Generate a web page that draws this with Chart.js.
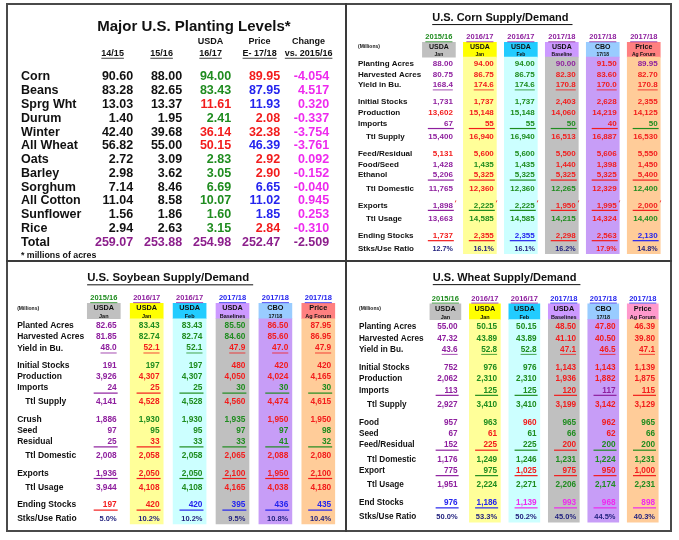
<!DOCTYPE html>
<html>
<head>
<meta charset="utf-8">
<script src="https://cdn.jsdelivr.net/npm/chart.js@4.4.1/dist/chart.umd.min.js"></script>
<style>
  body { margin: 0; background: #fff; }
  #wrap { position: relative; width: 679px; height: 540px; overflow: hidden; }
  canvas { position: absolute; }
  .rule { position: absolute; background: #3a3a3a; z-index: 2; }
  #frame { position: absolute; left: 6px; top: 3px; width: 666px; height: 529px; box-sizing: border-box; border: 2px solid #4a4a4a; z-index: 2; }
</style>
</head>
<body>
<div id="wrap">
  <canvas id="plantChart"></canvas>
  <canvas id="cornChart"></canvas>
  <canvas id="soyChart"></canvas>
  <canvas id="wheatChart"></canvas>
  <div id="frame"></div>
  <div class="rule" style="left:345px; top:3px; width:2px; height:529px;"></div>
  <div class="rule" style="left:6px; top:260px; width:666px; height:2px;"></div>
</div>
<script>
// ===========================
// DATA
// ===========================

// Major U.S. Planting Levels (millions of acres)
const plantCrops = ['Corn', 'Beans', 'Sprg Wht', 'Durum', 'Winter', 'All Wheat', 'Oats', 'Barley', 'Sorghum', 'All Cotton', 'Sunflower', 'Rice', 'Total'];
const plantHeadTop = ['', '', 'USDA', 'Price', 'Change'];
const plantHeadBottom = ['14/15', '15/16', '16/17', 'E- 17/18', 'vs. 2015/16'];
const plant1415 = [90.60, 83.28, 13.03, 1.40, 42.40, 56.82, 2.72, 2.98, 7.14, 11.04, 1.56, 2.94, 259.07];
const plant1516 = [88.00, 82.65, 13.37, 1.95, 39.68, 55.00, 3.09, 3.62, 8.46, 8.58, 1.86, 2.63, 253.88];
const plantUsda1617 = [94.00, 83.43, 11.61, 2.41, 36.14, 50.15, 2.83, 3.05, 6.69, 10.07, 1.60, 3.15, 254.98];
const plantPrice1718 = [89.95, 87.95, 11.93, 2.08, 32.38, 46.39, 2.92, 2.90, 6.65, 11.02, 1.85, 2.84, 252.47];
const plantChange = [-4.054, 4.517, 0.320, -0.337, -3.754, -3.761, 0.092, -0.152, -0.040, 0.945, 0.253, -0.310, -2.509];
// colour codes per cell (k black, g green, r red, b blue, t total purple, m magenta)
const plantTints = ['kkkkkkkkkkkkt', 'kkkkkkkkkkkkt', 'ggrgrrggggggt', 'rbbrrbrrbbbrt', 'mmmmmmmmmmmmt'];

// rows shared by the three supply/demand tables
const sdFormats = ['acre', 'acre', 'yield', 'n', 'n', 'n', 'n', 'n', 'n', 'n', 'n', 'n', 'n', 'n', 'pct'];
const sdRuleRows = [5, 9, 11, 13];

// U.S. Corn Supply/Demand
const cornRows = ['Planting Acres', 'Harvested Acres', 'Yield in Bu.', 'Initial Stocks', 'Production', 'Imports', 'Ttl Supply',
  'Feed/Residual', 'Food/Seed', 'Ethanol', 'Ttl Domestic', 'Exports', 'Ttl Usage', 'Ending Stocks', 'Stks/Use Ratio'];
const cornGroups = [3, 4, 4, 2, 2];
const cornYears = ['2015/16', '2016/17', '2016/17', '2017/18', '2017/18', '2017/18'];
const cornHeadTop = ['USDA', 'USDA', 'USDA', 'USDA', 'CBO', 'Price'];
const cornHeadSub = ['Jan', 'Jan', 'Feb', 'Baseline', '17/18', 'Ag Forum'];
const corn1516Jan = [88.00, 80.75, 168.4, 1731, 13602, 67, 15400, 5131, 1428, 5206, 11765, 1898, 13663, 1737, 12.7];
const corn1617Jan = [94.00, 86.75, 174.6, 1737, 15148, 55, 16940, 5600, 1435, 5325, 12360, 2225, 14585, 2355, 16.1];
const corn1617Feb = [94.00, 86.75, 174.6, 1737, 15148, 55, 16940, 5600, 1435, 5325, 12360, 2225, 14585, 2355, 16.1];
const corn1718Base = [90.00, 82.30, 170.8, 2403, 14060, 50, 16513, 5500, 1440, 5325, 12265, 1950, 14215, 2298, 16.2];
const corn1718Cbo = [91.50, 83.60, 170.0, 2628, 14219, 40, 16887, 5606, 1398, 5325, 12329, 1995, 14324, 2563, 17.9];
const corn1718Forum = [89.95, 82.70, 170.8, 2355, 14125, 50, 16530, 5550, 1450, 5400, 12400, 2000, 14400, 2130, 14.8];
const cornYearTints = 'gppppp';
const cornTints = ['pppprpprppppprn', 'rrrrrrrrgrrggrn', 'gggggggggggggbn', 'prrrrgrrrrgrgrn', 'rrrrrrrrrrrrrrr', 'prrrrgrrrrgrgbn'];

// U.S. Soybean Supply/Demand
const soyRows = ['Planted Acres', 'Harvested Acres', 'Yield in Bu.', 'Initial Stocks', 'Production', 'Imports', 'Ttl Supply',
  'Crush', 'Seed', 'Residual', 'Ttl Domestic', 'Exports', 'Ttl Usage', 'Ending Stocks', 'Stks/Use Ratio'];
const soyGroups = [3, 4, 4, 2, 2];
const soyYears = ['2015/16', '2016/17', '2016/17', '2017/18', '2017/18', '2017/18'];
const soyHeadTop = ['USDA', 'USDA', 'USDA', 'USDA', 'CBO', 'Price'];
const soyHeadSub = ['Jan', 'Jan', 'Feb', 'Baselines', '17/18', 'Ag Forum'];
const soy1516Jan = [82.65, 81.85, 48.0, 191, 3926, 24, 4141, 1886, 97, 25, 2008, 1936, 3944, 197, 5.0];
const soy1617Jan = [83.43, 82.74, 52.1, 197, 4307, 25, 4528, 1930, 95, 33, 2058, 2050, 4108, 420, 10.2];
const soy1617Feb = [83.43, 82.74, 52.1, 197, 4307, 25, 4528, 1930, 95, 33, 2058, 2050, 4108, 420, 10.2];
const soy1718Base = [85.50, 84.60, 47.9, 480, 4050, 30, 4560, 1935, 97, 33, 2065, 2100, 4165, 395, 9.5];
const soy1718Cbo = [86.50, 85.60, 47.0, 420, 4024, 30, 4474, 1950, 97, 41, 2088, 1950, 4038, 436, 10.8];
const soy1718Forum = [87.95, 86.95, 47.9, 420, 4165, 30, 4615, 1950, 98, 32, 2080, 2100, 4180, 435, 10.4];
const soyYearTints = 'gppbbb';
const soyTints = ['ppppppppppppprn', 'ggrgrrrggrrrrrn', 'gggggggggggggbn', 'ggrrrgrgggrrrbn', 'rrrrrgrrggrrrbn', 'rrrrrgrrggrrrbn'];

// U.S. Wheat Supply/Demand
const wheatRows = ['Planting Acres', 'Harvested Acres', 'Yield in Bu.', 'Initial Stocks', 'Production', 'Imports', 'Ttl Supply',
  'Food', 'Seed', 'Feed/Residual', 'Ttl Domestic', 'Export', 'Ttl Usage', 'End Stocks', 'Stks/Use Ratio'];
const wheatGroups = [3, 4, 6, 2];
const wheatYears = ['2015/16', '2016/17', '2016/17', '2017/18', '2017/18', '2017/18'];
const wheatHeadTop = ['USDA', 'USDA', 'USDA', 'USDA', 'CBO', 'Price'];
const wheatHeadSub = ['Jan', 'Jan', 'Feb', 'Baselines', '17/18', 'Ag Forum'];
const wheat1516Jan = [55.00, 47.32, 43.6, 752, 2062, 113, 2927, 957, 67, 152, 1176, 775, 1951, 976, 50.0];
const wheat1617Jan = [50.15, 43.89, 52.8, 976, 2310, 125, 3410, 963, 61, 225, 1249, 975, 2224, 1186, 53.3];
const wheat1617Feb = [50.15, 43.89, 52.8, 976, 2310, 125, 3410, 960, 61, 225, 1246, 1025, 2271, 1139, 50.2];
const wheat1718Base = [48.50, 41.10, 47.1, 1143, 1936, 120, 3199, 965, 66, 200, 1231, 975, 2206, 993, 45.0];
const wheat1718Cbo = [47.80, 40.50, 46.5, 1143, 1882, 117, 3142, 962, 62, 200, 1224, 950, 2174, 968, 44.5];
const wheat1718Forum = [46.39, 39.80, 47.1, 1139, 1875, 115, 3129, 965, 66, 200, 1231, 1000, 2231, 898, 40.3];
const wheatYearTints = 'gppbbb';
const wheatTints = ['pppppppppppppbn', 'ggggggggrrgggbn', 'gggggggrgggrgmn', 'rrrrrrrggrgrgmn', 'rrrrrprrrggrgmn', 'rrrrrrrggggrgmn'];

// ===========================
// DRAWING
// ===========================

const FONT = '"Liberation Sans", Arial, Helvetica, sans-serif';
const INK = { k: '#111111', p: '#8e1f9e', r: '#f21c1c', g: '#1f8c1f', b: '#2424ee', m: '#ee2aee', n: '#23237f', t: '#8c1f8c' };

function fmt(v, kind) {
    if (kind === 'acre') return v.toFixed(2);
    if (kind === 'yield') return v.toFixed(1);
    if (kind === 'pct') return v.toFixed(1) + '%';
    return v.toLocaleString('en-US');
}

// draw a string, optionally underlined; returns its width
function text(ctx, s, x, y, font, color, align, underline) {
    ctx.font = font;
    ctx.fillStyle = color;
    ctx.textAlign = align;
    ctx.textBaseline = 'middle';
    ctx.fillText(s, x, y);
    const w = ctx.measureText(s).width;
    if (underline) {
        const size = parseFloat(font.replace('bold ', ''));
        const x0 = align === 'center' ? x - w / 2 : (align === 'right' ? x - w : x);
        ctx.strokeStyle = color;
        ctx.lineWidth = Math.max(0.8, size / 11);
        ctx.beginPath();
        ctx.moveTo(x0, y + size * 0.58);
        ctx.lineTo(x0 + w, y + size * 0.58);
        ctx.stroke();
    }
    return w;
}

// row positions in y-scale units: 1 per row, wider for totals and between groups
function rowUnits(labels, groups) {
    const out = [];
    let u = 0, i = 0;
    groups.forEach(size => {
        for (let k = 0; k < size; k++, i++) {
            if (i > 0) u += (k === 0) ? 1.6 : (/^(Ttl|Stks)/.test(labels[i]) ? 1.25 : 1);
            out.push(u);
        }
    });
    return out;
}

function makeChart(id, box, geo, datasets, draw) {
    const canvas = document.getElementById(id);
    canvas.width = box.width;
    canvas.height = box.height;
    canvas.style.left = box.left + 'px';
    canvas.style.top = box.top + 'px';
    const xmin = 1 - (geo.x1 - box.left) / geo.dx;
    const ymin = -(geo.y0 - box.top) / geo.dy;
    return new Chart(canvas, {
        type: 'bar',
        data: { datasets: datasets },
        options: {
            responsive: false,
            animation: false,
            events: [],
            layout: { padding: 0 },
            plugins: { legend: { display: false }, tooltip: { enabled: false } },
            scales: {
                x: { type: 'linear', display: false, offset: false, grace: 0, min: xmin, max: xmin + box.width / geo.dx },
                y: { type: 'linear', display: false, offset: false, grace: 0, reverse: true, min: ymin, max: ymin + box.height / geo.dy }
            }
        },
        plugins: [{ id: 'cells', afterDatasetsDraw: chart => draw(chart) }]
    });
}

// ---------- planting levels ----------
function drawPlanting(chart) {
    const ctx = chart.ctx;
    const X = v => chart.scales.x.getPixelForValue(v);
    const Y = v => chart.scales.y.getPixelForValue(v);
    const cols = [plant1415, plant1516, plantUsda1617, plantPrice1718, plantChange];
    ctx.save();
    text(ctx, 'Major U.S. Planting Levels*', X(2.24), Y(-3.65), `bold 15px ${FONT}`, '#111', 'center');
    plantHeadBottom.forEach((h, c) => {
        if (plantHeadTop[c]) text(ctx, plantHeadTop[c], X(c + 1 - 0.42), Y(-2.61), `bold 9px ${FONT}`, '#111', 'center');
        text(ctx, h, X(c + 1 - 0.42), Y(-1.74), `bold 9px ${FONT}`, '#111', 'center', true);
    });
    plantCrops.forEach((crop, r) => {
        text(ctx, crop, X(-1.29), Y(r), `bold 12.5px ${FONT}`, '#111', 'left');
        cols.forEach((col, c) => {
            const s = c === 4 ? col[r].toFixed(3) : col[r].toFixed(2);
            text(ctx, s, X(c + 1), Y(r), `bold 12.5px ${FONT}`, INK[plantTints[c][r]], 'right');
        });
    });
    text(ctx, '* millions of acres', X(-1.29), Y(12.95), `bold 8.8px ${FONT}`, '#111', 'left');
    ctx.restore();
}

makeChart('plantChart', { left: 8, top: 5, width: 337, height: 255 },
    { x1: 133.2, dx: 49, y0: 77, dy: 13.77 }, [], drawPlanting);

// ---------- supply / demand tables ----------
const boxFill = ['#c0c0c0', '#ffff00', '#22ccff', '#cc99ff', '#99ccff'];
const bandFill = ['#ffff99', '#ccffff', '#c0c0c0', '#c79df7', '#ffcc99'];

function supplyPanel(id, box, geo, p) {
    const units = rowUnits(p.rows, p.groups);
    const bottom = units[units.length - 1] + 0.45;
    const cols = p.cols;
    const heads = {
        data: cols.map((col, c) => ({ x: c + 1, y: [-2.05, -0.65] })),
        backgroundColor: boxFill.concat([p.lastBox]),
        barThickness: p.band, grouped: false, borderWidth: 0
    };
    const bands = {
        data: cols.slice(1).map((col, c) => ({ x: c + 2, y: [-0.65, bottom] })),
        backgroundColor: bandFill,
        barThickness: p.band, grouped: false, borderWidth: 0
    };
    makeChart(id, box, geo, [bands, heads], chart => {
        const ctx = chart.ctx;
        const X = v => chart.scales.x.getPixelForValue(v);
        const Y = v => chart.scales.y.getPixelForValue(v);
        ctx.save();
        const tw = text(ctx, p.title, X(2.5), Y(-4.33), `bold ${p.titleSize}px ${FONT}`, '#111', 'center');
        ctx.strokeStyle = '#111';
        ctx.lineWidth = 1;
        ctx.beginPath();
        ctx.moveTo(X(2.5) - tw / 2, Y(-4.33) + p.titleSize * 0.6);
        ctx.lineTo(X(2.5) + tw / 2 + 4, Y(-4.33) + p.titleSize * 0.6);
        ctx.stroke();
        text(ctx, '(Millions)', X(p.labelAt), Y(-1.6), `bold 5px ${FONT}`, '#111', 'left');
        p.years.forEach((yr, c) => {
            text(ctx, yr, X(c + 1), Y(-2.5), `bold 7.5px ${FONT}`, INK[p.yearTints[c]], 'center', true);
            text(ctx, p.headTop[c], X(c + 1), Y(-1.6), `bold ${p.headSize}px ${FONT}`, '#111', 'center');
            text(ctx, p.headSub[c], X(c + 1), Y(-0.85), `bold ${p.subSize}px ${FONT}`, '#111', 'center');
        });
        p.rows.forEach((label, r) => {
            const y = Y(units[r]);
            const indent = /^Ttl/.test(label) ? 8 : 0;
            text(ctx, label, X(p.labelAt) + indent, y, `bold ${p.labelSize}px ${FONT}`, '#111', 'left');
            cols.forEach((col, c) => {
                const color = INK[p.tints[c][r]];
                const xr = X(c + 1 + p.valueOff);
                const size = sdFormats[r] === 'pct' ? p.pctSize : p.valueSize;
                text(ctx, fmt(col[r], sdFormats[r]), xr, y, `bold ${size}px ${FONT}`, color, 'right', r === 2);
                if (sdRuleRows.includes(r)) {
                    ctx.strokeStyle = color;
                    ctx.lineWidth = 1.2;
                    ctx.beginPath();
                    ctx.moveTo(xr - p.ruleWidth, y + 5);
                    ctx.lineTo(xr + 1, y + 5);
                    ctx.stroke();
                }
                if (p.marks.includes(r)) {
                    ctx.strokeStyle = INK.r;
                    ctx.lineWidth = 0.8;
                    ctx.beginPath();
                    ctx.moveTo(xr + 3, y - 5);
                    ctx.lineTo(xr + 2.5, y - 3);
                    ctx.stroke();
                }
            });
        });
        ctx.restore();
    });
}

supplyPanel('cornChart', { left: 347, top: 5, width: 323, height: 255 },
    { x1: 438.9, dx: 40.97, y0: 64, dy: 10.63 }, {
        title: 'U.S. Corn Supply/Demand', titleSize: 11,
        rows: cornRows, groups: cornGroups, years: cornYears, yearTints: cornYearTints,
        headTop: cornHeadTop, headSub: cornHeadSub, tints: cornTints,
        cols: [corn1516Jan, corn1617Jan, corn1617Feb, corn1718Base, corn1718Cbo, corn1718Forum],
        marks: [11], lastBox: '#ff8080', band: 33,
        labelAt: -0.975, valueOff: 0.34, labelSize: 8, valueSize: 8, pctSize: 7.2,
        headSize: 7, subSize: 5, ruleWidth: 25
    });

supplyPanel('soyChart', { left: 8, top: 262, width: 337, height: 268 },
    { x1: 103.8, dx: 42.9, y0: 326, dy: 11.09 }, {
        title: 'U.S. Soybean Supply/Demand', titleSize: 11.4,
        rows: soyRows, groups: soyGroups, years: soyYears, yearTints: soyYearTints,
        headTop: soyHeadTop, headSub: soyHeadSub, tints: soyTints,
        cols: [soy1516Jan, soy1617Jan, soy1617Feb, soy1718Base, soy1718Cbo, soy1718Forum],
        marks: [], lastBox: '#ff8080', band: 33,
        labelAt: -1.02, valueOff: 0.30, labelSize: 8.5, valueSize: 8.3, pctSize: 7.5,
        headSize: 7.3, subSize: 5.5, ruleWidth: 23
    });

supplyPanel('wheatChart', { left: 347, top: 262, width: 323, height: 268 },
    { x1: 445.4, dx: 39.47, y0: 327, dy: 11.31 }, {
        title: 'U.S. Wheat Supply/Demand', titleSize: 11,
        rows: wheatRows, groups: wheatGroups, years: wheatYears, yearTints: wheatYearTints,
        headTop: wheatHeadTop, headSub: wheatHeadSub, tints: wheatTints,
        cols: [wheat1516Jan, wheat1617Jan, wheat1617Feb, wheat1718Base, wheat1718Cbo, wheat1718Forum],
        marks: [], lastBox: '#ff99cc', band: 31,
        labelAt: -1.19, valueOff: 0.31, labelSize: 8.2, valueSize: 8.2, pctSize: 7.5,
        headSize: 7.3, subSize: 5.5, ruleWidth: 22
    });
</script>
</body>
</html>
